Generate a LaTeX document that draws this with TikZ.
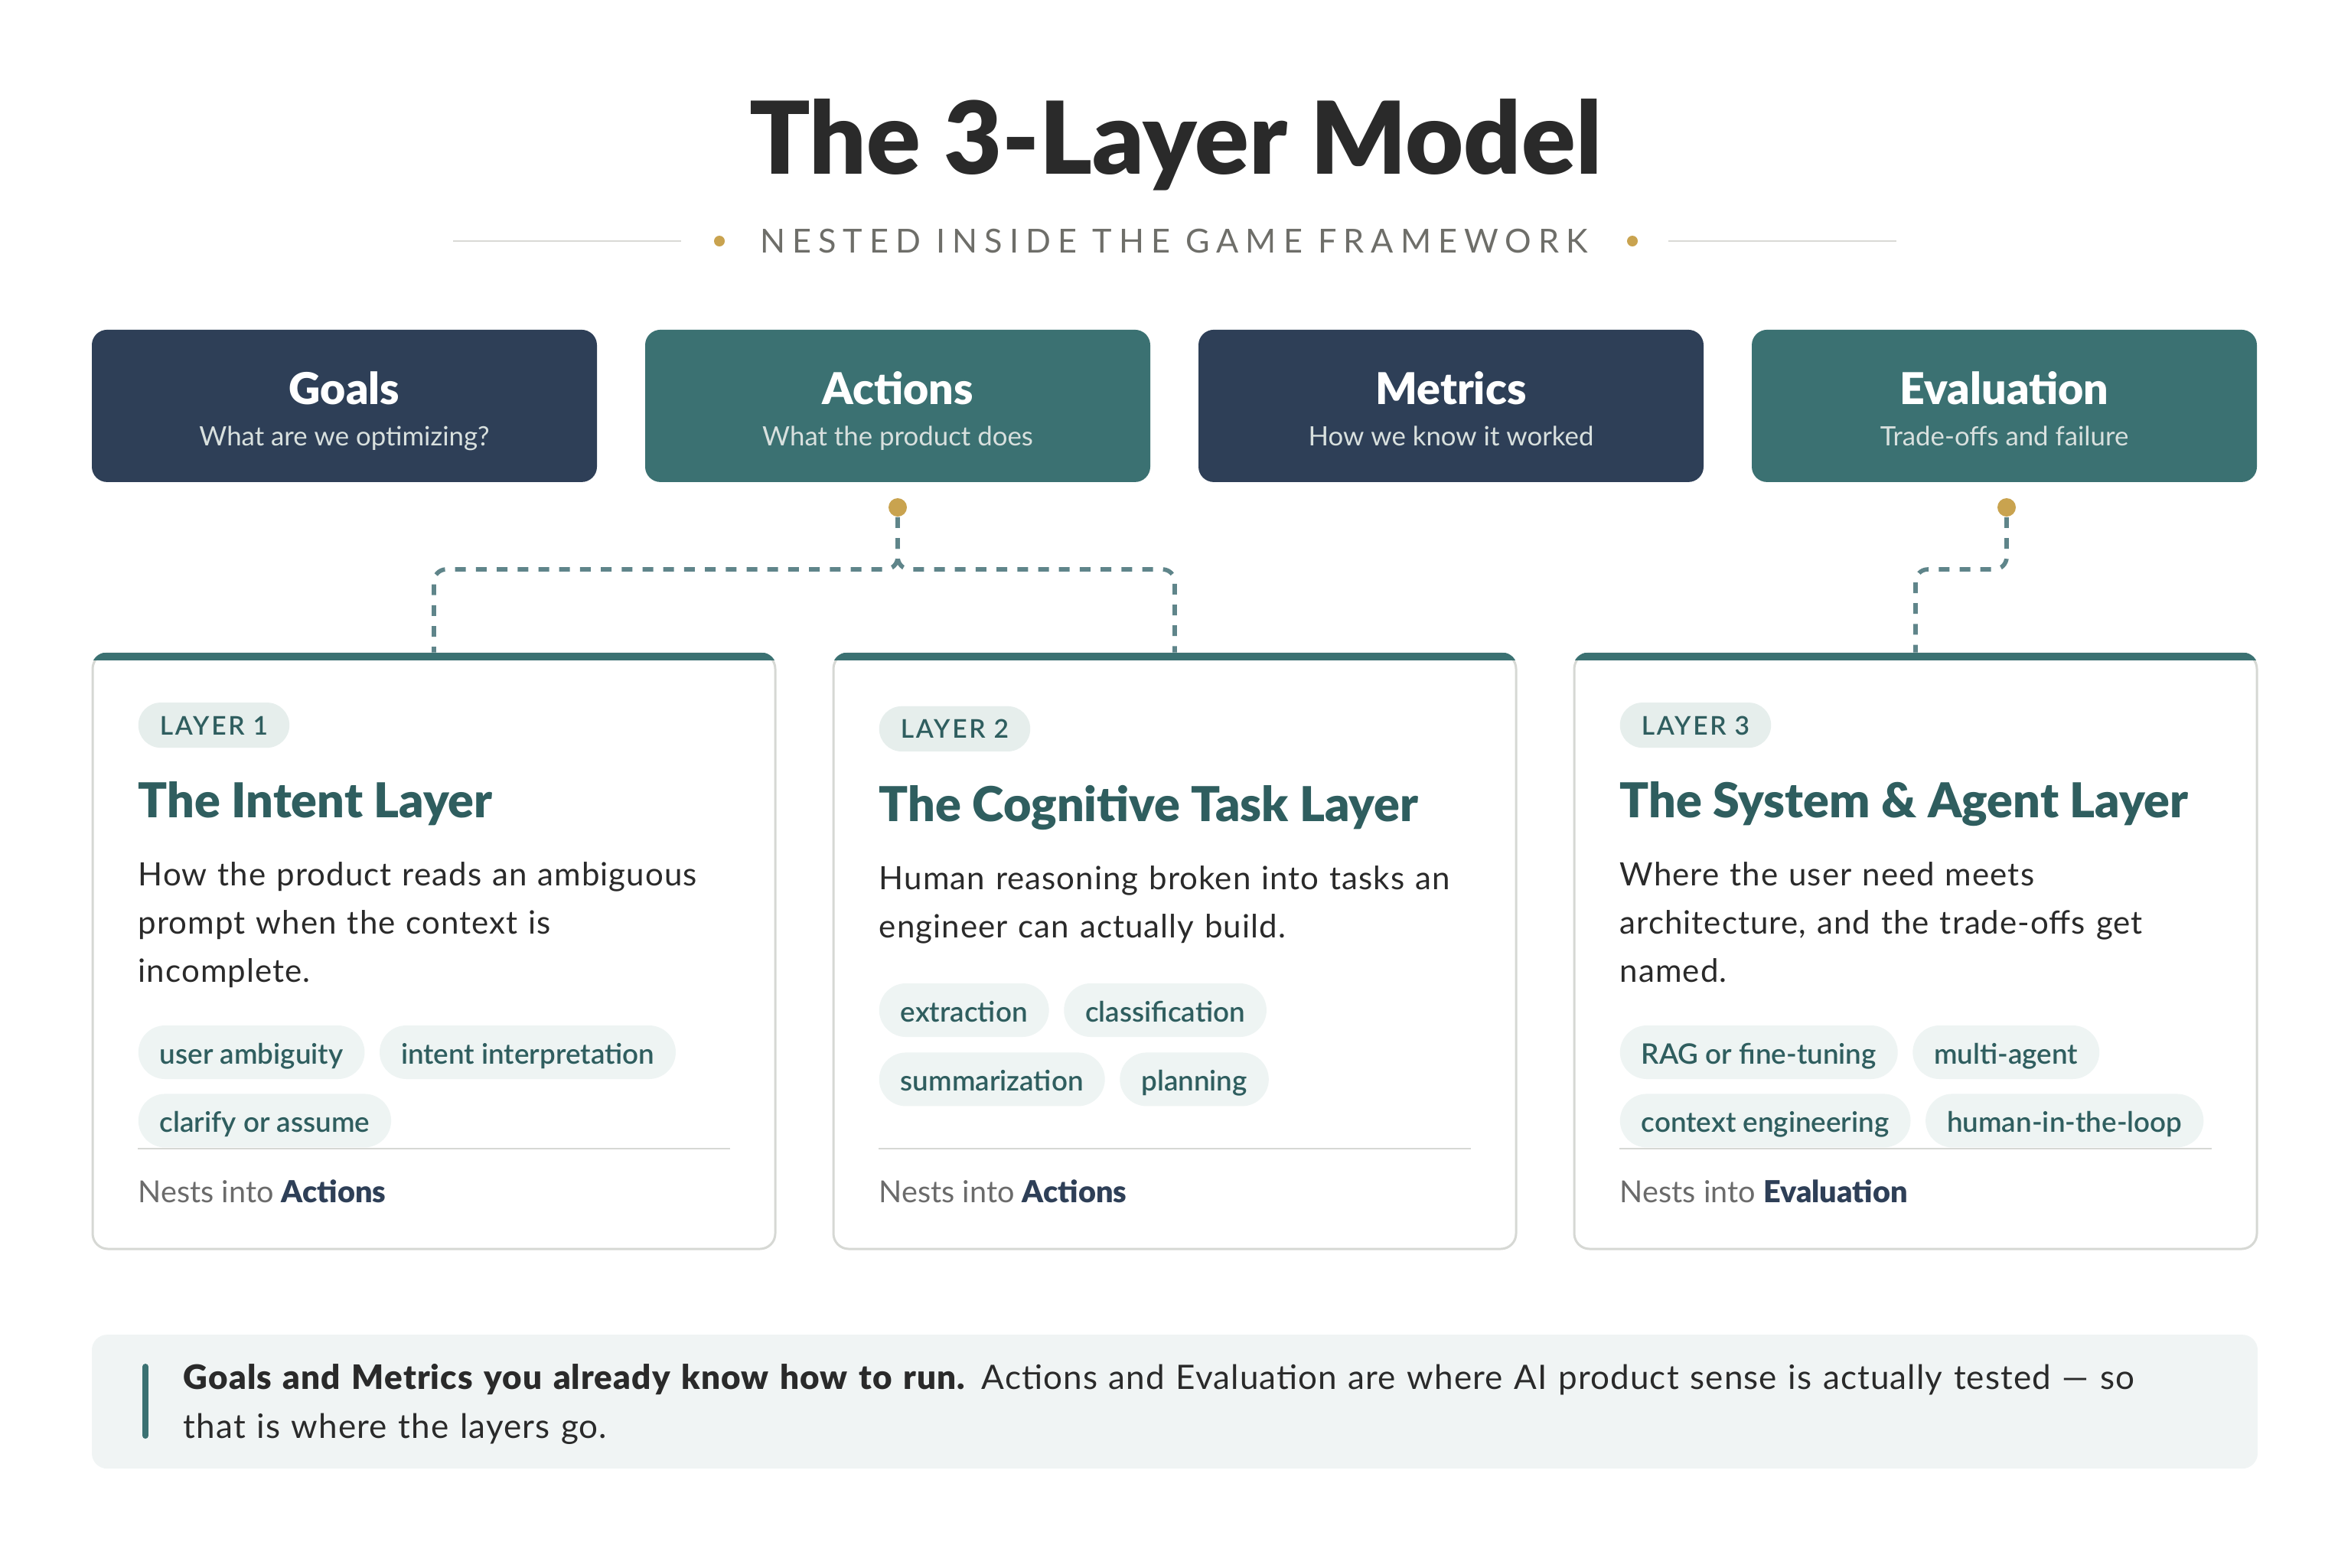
\documentclass[tikz,border=0pt]{standalone}
\usepackage{fontspec}
\setmainfont{Lato}
\newfontfamily\bodyfont{Lato}[LetterSpace=2.5]
\IfFontExistsTF{Lato Black}{%
  \newfontfamily\heavyfont{Lato Black}%
  \newfontfamily\heavywide{Lato Black}[LetterSpace=2.5]}{%
  \newfontfamily\heavyfont{Lato Bold}%
  \newfontfamily\heavywide{Lato Bold}[LetterSpace=2.5]}
\IfFontExistsTF{Lato Semibold}{%
  \newfontfamily\semifont{Lato Semibold}%
  \newfontfamily\pillfont{Lato Semibold}[LetterSpace=8]}{%
  \newfontfamily\semifont{Lato Bold}%
  \newfontfamily\pillfont{Lato Bold}[LetterSpace=8]}
\newfontfamily\trackfont{Lato}[LetterSpace=21]
\usetikzlibrary{positioning}

\definecolor{ink}{HTML}{2A2A2A}
\definecolor{navybox}{HTML}{2E3F57}
\definecolor{tealbox}{HTML}{3B7172}
\definecolor{deepteal}{HTML}{2F5E5F}
\definecolor{linkcol}{HTML}{5F858A}
\definecolor{gold}{HTML}{C9A34F}
\definecolor{rulegray}{HTML}{D9D9D5}
\definecolor{cardgray}{HTML}{D6D8D4}
\definecolor{chipfill}{HTML}{EEF4F3}
\definecolor{pillfill}{HTML}{E6EEEC}
\definecolor{notefill}{HTML}{F0F4F4}
\definecolor{subgray}{HTML}{6E6E69}
\definecolor{mutegray}{HTML}{6B6B6B}
\definecolor{boxsub}{HTML}{D8E0DE}

\begin{document}
\begin{tikzpicture}[x=1pt,y=-1pt,
  topbox/.style={shape=rectangle,rounded corners=5pt,minimum width=165pt,minimum height=49.75pt,inner sep=0pt},
  boxtitle/.style={anchor=base,text=white,font=\heavyfont\fontsize{14.3}{17}\selectfont},
  boxsub/.style={anchor=base,text=boxsub,font=\fontsize{8.7}{10}\selectfont},
  golddot/.style={shape=circle,fill=gold,minimum size=6pt,inner sep=0pt},
  link/.style={draw=linkcol,line width=1.4pt,dash pattern=on 3.5pt off 3.3pt,rounded corners=4pt},
  card/.style={shape=rectangle,rounded corners=5pt,draw=cardgray,line width=0.75pt,fill=white,minimum width=223pt,minimum height=194.5pt,inner sep=0pt},
  pill/.style={shape=rectangle,rounded corners=7.3pt,fill=pillfill,text=deepteal,minimum height=14.75pt,inner xsep=7pt,inner ysep=0pt,text height=6.5pt,text depth=0.25pt,anchor=west,font=\pillfont\fontsize{8.4}{10}\selectfont},
  cardtitle/.style={anchor=base west,inner sep=0pt,text=deepteal,font=\heavyfont\fontsize{15.7}{19}\selectfont},
  desc/.style={anchor=base west,inner sep=0pt,text width=215pt,align=left,text=ink,font=\bodyfont\fontsize{10.5}{15.75}\selectfont},
  chip/.style={shape=rectangle,rounded corners=8.75pt,fill=chipfill,text=deepteal,minimum height=17.5pt,inner xsep=7pt,inner ysep=0pt,text height=8.5pt,text depth=1pt,font=\semifont\fontsize{9.2}{11}\selectfont},
  divider/.style={draw=cardgray,line width=0.5pt},
  nest/.style={anchor=base west,inner sep=0pt,text=mutegray,font=\fontsize{9.9}{11}\selectfont}]
\useasboundingbox (0,0) rectangle (768,512);

% heading
\node[anchor=base,text=ink,font=\heavyfont\fontsize{32.8}{36}\selectfont] (title) at (384,56.75) {The 3-Layer Model};
\node[anchor=base,text=subgray,font=\trackfont\fontsize{10.8}{12}\selectfont] (subtitle) at (383.5,82.5) {NESTED INSIDE THE GAME FRAMEWORK};
\node[shape=circle,fill=gold,minimum size=3.5pt,inner sep=0pt] (subdotL) at (235,78.75) {};
\node[shape=circle,fill=gold,minimum size=3.5pt,inner sep=0pt] (subdotR) at (533.25,78.75) {};
\coordinate (ruleLa) at (148,78.75);
\coordinate (ruleLb) at (222.5,78.75);
\coordinate (ruleRa) at (545,78.75);
\coordinate (ruleRb) at (619.5,78.75);
\draw[rulegray,line width=0.5pt] (ruleLa) -- (ruleLb);
\draw[rulegray,line width=0.5pt] (ruleRa) -- (ruleRb);

% GAME boxes
\node[topbox,fill=navybox] (goals) at (112.5,132.6) {};
\node[boxtitle] (goalsT) at (112.5,132) {Goals};
\node[boxsub] (goalsS) at (112.5,145.5) {What are we optimizing?};
\node[topbox,fill=tealbox] (actions) at (293.25,132.6) {};
\node[boxtitle] (actionsT) at (293.25,132) {Actions};
\node[boxsub] (actionsS) at (293.25,145.5) {What the product does};
\node[topbox,fill=navybox] (metrics) at (474,132.6) {};
\node[boxtitle] (metricsT) at (474,132) {Metrics};
\node[boxsub] (metricsS) at (474,145.5) {How we know it worked};
\node[topbox,fill=tealbox] (evaluation) at (654.75,132.6) {};
\node[boxtitle] (evaluationT) at (654.75,132) {Evaluation};
\node[boxsub] (evaluationS) at (654.75,145.5) {Trade-offs and failure};

\node[golddot] (actdot) at (293.25,165.75) {};
\node[golddot] (evaldot) at (655.5,165.75) {};

% layer cards
\node[card] (card1) at (141.75,310.75) {};
\node[card] (card2) at (383.75,310.75) {};
\node[card] (card3) at (625.75,310.75) {};
\begin{scope}
\clip[rounded corners=5pt] (card1.north west) rectangle (card1.south east);
\fill[tealbox] (card1.north west) rectangle ([yshift=-2.6pt]card1.north east);
\end{scope}
\begin{scope}
\clip[rounded corners=5pt] (card2.north west) rectangle (card2.south east);
\fill[tealbox] (card2.north west) rectangle ([yshift=-2.6pt]card2.north east);
\end{scope}
\begin{scope}
\clip[rounded corners=5pt] (card3.north west) rectangle (card3.south east);
\fill[tealbox] (card3.north west) rectangle ([yshift=-2.6pt]card3.north east);
\end{scope}

\draw[link] (actdot) -- ++(0,20.25) -| (card1.north);
\draw[link] (actdot) -- ++(0,20.25) -| (card2.north);
\draw[link] (evaldot) -- ++(0,20.25) -| (card3.north);

% layer 1
\node[pill] (pill1) at (45,236.9) {LAYER 1};
\node[cardtitle] (title1) at (45,267) {The Intent Layer};
\node[desc] (desc1) at (45,289.25) {How the product reads an ambiguous\\prompt when the context is\\incomplete.};
\node[chip,anchor=west] (chip1a) at (45,343.75) {user ambiguity};
\node[chip,right=4.5pt of chip1a] (chip1b) {intent interpretation};
\node[chip,anchor=west] (chip1c) at (45,366.1) {clarify or assume};
\coordinate (rule1a) at (45,375.25);
\coordinate (rule1b) at (238.5,375.25);
\draw[divider] (rule1a) -- (rule1b);
\node[nest] (nest1) at (45,392.75) {Nests into \textcolor{navybox}{\heavyfont Actions}};

% layer 2
\node[pill] (pill2) at (287,238.1) {LAYER 2};
\node[cardtitle] (title2) at (287,268.25) {The Cognitive Task Layer};
\node[desc] (desc2) at (287,290.5) {Human reasoning broken into tasks an\\engineer can actually build.};
\node[chip,anchor=west] (chip2a) at (287,330) {extraction};
\node[chip,right=4.5pt of chip2a] (chip2b) {classification};
\node[chip,anchor=west] (chip2c) at (287,352.6) {summarization};
\node[chip,right=4.5pt of chip2c] (chip2d) {planning};
\coordinate (rule2a) at (287,375.25);
\coordinate (rule2b) at (480.5,375.25);
\draw[divider] (rule2a) -- (rule2b);
\node[nest] (nest2) at (287,392.75) {Nests into \textcolor{navybox}{\heavyfont Actions}};

% layer 3
\node[pill] (pill3) at (529,236.9) {LAYER 3};
\node[cardtitle] (title3) at (529,267) {The System \& Agent Layer};
\node[desc] (desc3) at (529,289.25) {Where the user need meets\\architecture, and the trade-offs get\\named.};
\node[chip,anchor=west] (chip3a) at (529,343.75) {RAG or fine-tuning};
\node[chip,right=4.5pt of chip3a] (chip3b) {multi-agent};
\node[chip,anchor=west] (chip3c) at (529,366.1) {context engineering};
\node[chip,right=4.5pt of chip3c] (chip3d) {human-in-the-loop};
\coordinate (rule3a) at (529,375.25);
\coordinate (rule3b) at (722.5,375.25);
\draw[divider] (rule3a) -- (rule3b);
\node[nest] (nest3) at (529,392.75) {Nests into \textcolor{navybox}{\heavyfont Evaluation}};

% takeaway
\node[shape=rectangle,rounded corners=5pt,fill=notefill,minimum width=707.5pt,minimum height=43.75pt,inner sep=0pt] (note) at (383.75,457.9) {};
\coordinate (barT) at (47.5,446.5);
\coordinate (barB) at (47.5,469);
\draw[tealbox,line width=2pt,line cap=round] (barT) -- (barB);
\node[anchor=base west,inner sep=0pt,text width=690pt,align=left,text=ink,font=\bodyfont\fontsize{11}{16}\selectfont] (notetext) at (59.75,453.75) {{\heavywide Goals and Metrics you already know how to run.} Actions and Evaluation are where AI product sense is actually tested — so\\that is where the layers go.};
\end{tikzpicture}
\end{document}
